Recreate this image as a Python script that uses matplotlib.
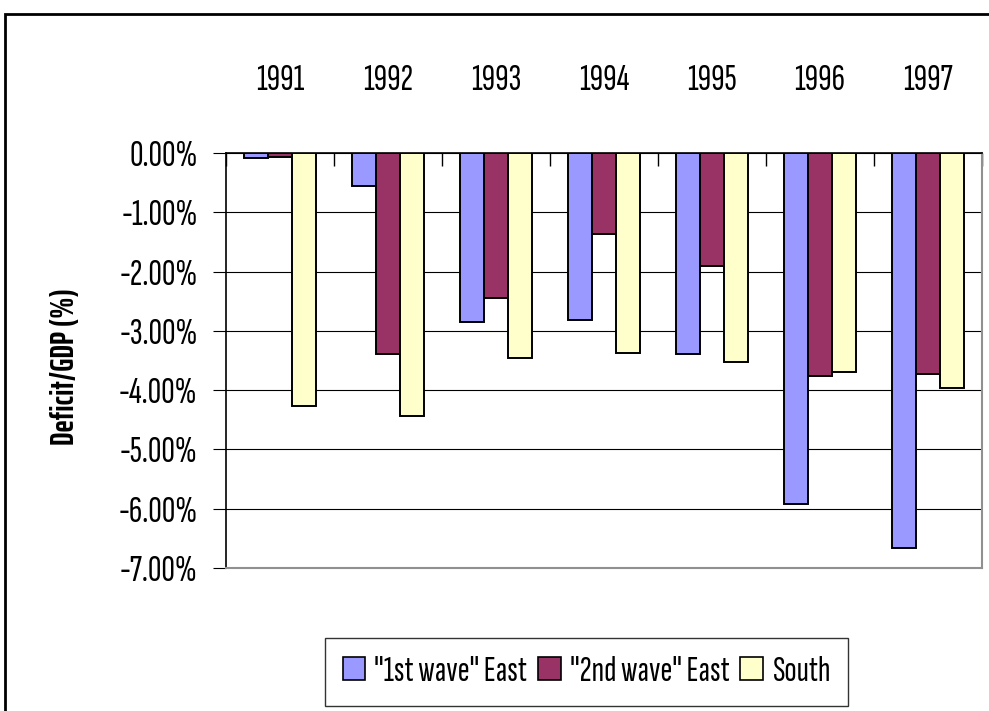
import matplotlib
matplotlib.use("Agg")
import matplotlib.pyplot as plt
import numpy as np
from matplotlib.patches import Rectangle, Patch
from matplotlib.ticker import FuncFormatter, FixedLocator

plt.rcParams['font.family'] = ['Sofia Sans Extra Condensed', 'Saira ExtraCondensed', 'DejaVu Sans']

years = ["1991", "1992", "1993", "1994", "1995", "1996", "1997"]
first_wave_east = [-0.08, -0.56, -2.85, -2.82, -3.39, -5.92, -6.66]
second_wave_east = [-0.07, -3.39, -2.45, -1.37, -1.91, -3.76, -3.73]
south = [-4.27, -4.44, -3.45, -3.38, -3.52, -3.69, -3.96]
series_names = ['"1st wave" East', '"2nd wave" East', 'South']
colors = ["#9999FF", "#993366", "#FFFFCC"]

W, H = 989, 711
fig = plt.figure(figsize=(W / 100, H / 100), dpi=100)
fig.patch.set_facecolor("white")

# outer chart border
fig.patches.append(Rectangle((5 / W, -0.1), 1.2, 1 - 13.5 / H + 0.1,
                             transform=fig.transFigure, fill=False,
                             edgecolor="black", linewidth=2.0, zorder=0))

ax = fig.add_axes([226 / W, 1 - 568 / H, (982 - 226) / W, (568 - 153) / H])

x = np.arange(len(years))
bw = 0.222
for i, (vals, c) in enumerate(zip([first_wave_east, second_wave_east, south], colors)):
    ax.bar(x + (i - 1) * bw, vals, width=bw, color=c, edgecolor="black",
           linewidth=1.4, zorder=3)

ax.set_xlim(-0.5, len(years) - 0.5)
ax.set_ylim(-7, 0)
ax.set_yticks(np.arange(-7, 0.01, 1))
ax.yaxis.set_major_formatter(FuncFormatter(lambda v, p: f"{v:.2f}%".replace("-0.00", "0.00")))
ax.grid(axis="y", color="black", linewidth=0.8, zorder=1)
ax.set_axisbelow(True)

# category axis sits along the zero line at the top
ax.xaxis.set_ticks_position("top")
ax.xaxis.set_label_position("top")
ax.set_xticks(x)
ax.set_xticklabels(years)
ax.xaxis.set_minor_locator(FixedLocator(np.arange(-0.5, len(years), 1.0)))
ax.tick_params(axis="x", which="major", length=0, pad=40, labelsize=27)
ax.tick_params(axis="x", which="minor", direction="in", length=9, width=1.0, color="black")
ax.tick_params(axis="y", which="major", direction="out", length=9.5, width=0.8,
               pad=11, labelsize=27)

ax.spines["top"].set_color("black")
ax.spines["top"].set_linewidth(1.2)
ax.spines["left"].set_color("black")
ax.spines["left"].set_linewidth(1.2)
ax.spines["right"].set_color("#909090")
ax.spines["bottom"].set_color("#909090")
ax.spines["right"].set_linewidth(1.5)
ax.spines["bottom"].set_linewidth(1.5)

fig.text(65 / W, 1 - 367 / H, "Deficit/GDP (%)", rotation=90, ha="center",
         va="center", fontsize=23.5, fontweight="bold",
         family=['Saira ExtraCondensed', 'DejaVu Sans'])

handles = [Patch(facecolor=c, edgecolor="black", linewidth=1.2) for c in colors]
leg = fig.legend(handles, series_names, loc="center", ncol=3,
                 bbox_to_anchor=((333 + 840) / 2 / W, 1 - 672 / H),
                 fontsize=26, frameon=True, fancybox=False,
                 handlelength=0.62, handleheight=0.62, handletextpad=0.25,
                 columnspacing=0.3, borderpad=0.5, borderaxespad=0)
leg.get_frame().set_edgecolor("black")
leg.get_frame().set_linewidth(1.0)

fig.savefig("out.png", dpi=100, facecolor="white")
